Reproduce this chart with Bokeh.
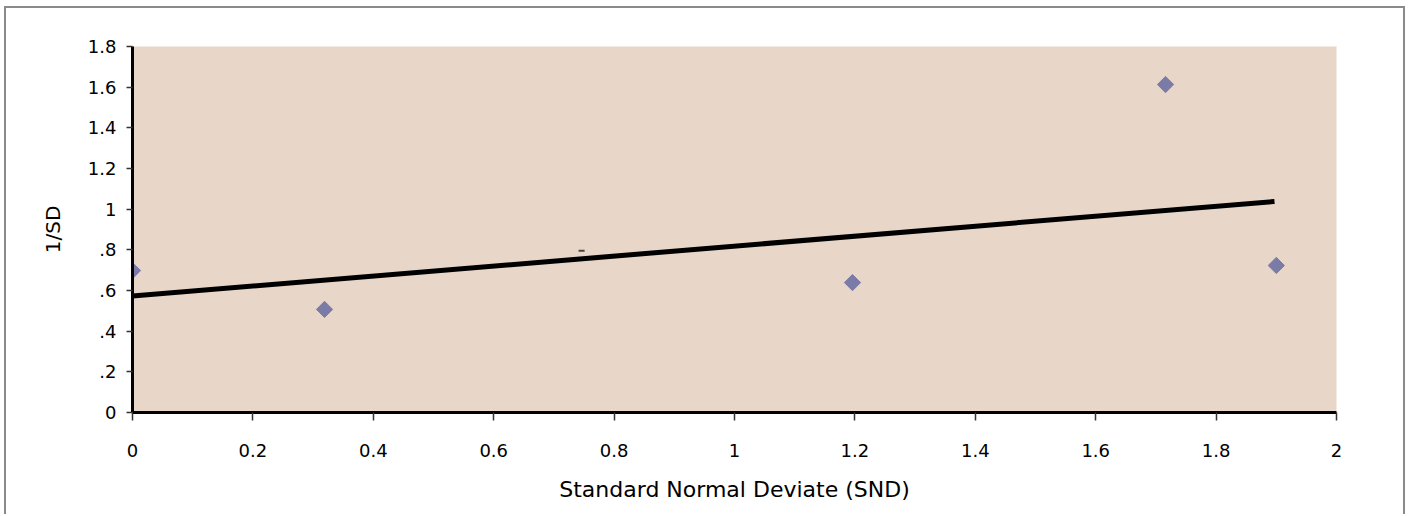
import numpy as np
from bokeh.plotting import figure
from bokeh.models import Range1d, FixedTicker
from bokeh.embed import file_html
from bokeh.resources import INLINE

# data
snd = [0.0, 0.319, 1.196, 1.716, 1.900]
inv_sd = [0.698, 0.507, 0.639, 1.613, 0.723]
trend_x = [0.0, 1.897]
trend_y = [0.573, 1.038]
mark_x0 = [0.741]
mark_x1 = [0.751]
mark_y = [0.795]
x_ticks = [0, 0.2, 0.4, 0.6, 0.8, 1, 1.2, 1.4, 1.6, 1.8, 2]
x_labels = ["0", "0.2", "0.4", "0.6", "0.8", "1", "1.2", "1.4", "1.6", "1.8", "2"]
y_ticks = [0, 0.2, 0.4, 0.6, 0.8, 1, 1.2, 1.4, 1.6, 1.8]
y_labels = ["0", ".2", ".4", ".6", ".8", "1", "1.2", "1.4", "1.6", "1.8"]

FONT = "DejaVu Sans"

p = figure(width=1401, height=508, output_backend="svg", toolbar_location=None,
           x_range=Range1d(0, 2), y_range=Range1d(0, 1.8),
           min_border_left=126, min_border_right=71, min_border_top=38, min_border_bottom=104)
p.styles = {"border-top": "2px solid #8a8a8a", "border-left": "2px solid #8a8a8a",
            "border-right": "2px solid #8a8a8a", "margin-left": "4px", "margin-top": "6px"}
p.background_fill_color = "#E8D6C9"
p.border_fill_color = "white"
p.outline_line_color = None
p.grid.visible = False

for ax in (p.xaxis[0], p.yaxis[0]):
    ax.axis_line_color = "black"
    ax.axis_line_width = 3
    ax.major_tick_line_color = "#333333"
    ax.major_tick_line_width = 1.5
    ax.major_tick_in = 0
    ax.minor_tick_line_color = None
    ax.major_label_text_font = FONT
    ax.major_label_text_font_size = "18px"
    ax.major_label_text_color = "black"
    ax.axis_label_text_font = FONT
    ax.axis_label_text_font_style = "normal"
    ax.axis_label_text_color = "black"

p.xaxis.ticker = FixedTicker(ticks=x_ticks)
p.xaxis.major_label_overrides = {t: l for t, l in zip(x_ticks, x_labels)}
p.xaxis.major_tick_out = 8
p.xaxis.major_label_standoff = 23
p.xaxis.axis_label = "Standard Normal Deviate (SND)"
p.xaxis.axis_label_text_font_size = "22px"
p.xaxis.axis_label_standoff = 17

p.yaxis.ticker = FixedTicker(ticks=y_ticks)
p.yaxis.major_label_overrides = {t: l for t, l in zip(y_ticks, y_labels)}
p.yaxis.major_tick_out = 6
p.yaxis.major_label_standoff = 10
p.yaxis.axis_label = "1/SD"
p.yaxis.axis_label_text_font_size = "20px"
p.yaxis.axis_label_standoff = 20

p.line(trend_x, trend_y, line_color="black", line_width=5)
p.segment(x0=mark_x0, y0=mark_y, x1=mark_x1, y1=mark_y, line_color="#444444", line_width=2)
p.scatter(snd, inv_sd, marker="square", angle=np.pi / 4, size=11.5,
          fill_color="#7B7BA8", line_color="#7B7BA8")

open("out.html", "w").write(file_html(p, INLINE))
